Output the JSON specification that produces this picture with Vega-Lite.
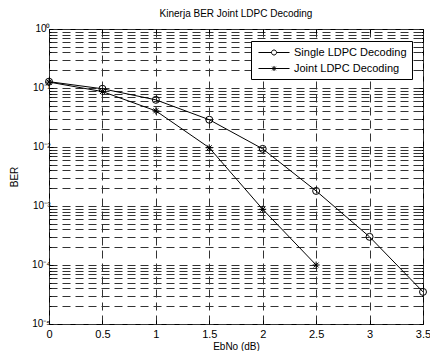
{
  "$schema": "https://vega.github.io/schema/vega-lite/v6.json",
  "width": 374,
  "height": 295,
  "autosize": {"type": "none"},
  "padding": {"left": 49, "top": 29, "right": 7, "bottom": 27},
  "background": "white",
  "config": {
    "font": "Liberation Sans",
    "view": {"stroke": "black", "strokeWidth": 1},
    "axis": {"domain": false, "labelColor": "black", "titleColor": "black", "tickColor": "black", "titleFontWeight": "normal", "labelFontSize": 11, "titleFontSize": 10, "labelFont": "Liberation Sans", "titleFont": "Liberation Sans"}
  },
  "title": {"text": "Kinerja BER Joint LDPC Decoding", "fontSize": 10, "fontWeight": "normal", "font": "Liberation Sans", "color": "black", "offset": 4},
  "data": {"values": [
    {"ebno": 0, "ber": 0.128, "series": "Single LDPC Decoding"},
    {"ebno": 0.5, "ber": 0.097, "series": "Single LDPC Decoding"},
    {"ebno": 1, "ber": 0.063, "series": "Single LDPC Decoding"},
    {"ebno": 1.5, "ber": 0.029, "series": "Single LDPC Decoding"},
    {"ebno": 2, "ber": 0.0093, "series": "Single LDPC Decoding"},
    {"ebno": 2.5, "ber": 0.0018, "series": "Single LDPC Decoding"},
    {"ebno": 3, "ber": 0.0003, "series": "Single LDPC Decoding"},
    {"ebno": 3.5, "ber": 0.000035, "series": "Single LDPC Decoding"},
    {"ebno": 0, "ber": 0.126, "series": "Joint LDPC Decoding"},
    {"ebno": 0.5, "ber": 0.087, "series": "Joint LDPC Decoding"},
    {"ebno": 1, "ber": 0.041, "series": "Joint LDPC Decoding"},
    {"ebno": 1.5, "ber": 0.0097, "series": "Joint LDPC Decoding"},
    {"ebno": 2, "ber": 0.00088, "series": "Joint LDPC Decoding"},
    {"ebno": 2.5, "ber": 0.0001, "series": "Joint LDPC Decoding"}
  ]},
  "encoding": {
    "x": {"field": "ebno", "type": "quantitative",
      "scale": {"domain": [0, 3.5], "nice": false, "zero": false},
      "axis": {"title": "EbNo (dB)", "values": [0, 0.5, 1, 1.5, 2, 2.5, 3, 3.5], "labelExpr": "format(datum.value, '~g')", "grid": true, "gridDash": [8, 5], "gridColor": "#333", "gridWidth": 1, "tickSize": -4, "labelPadding": 8, "titlePadding": 2, "labelFlush": false}},
    "y": {"field": "ber", "type": "quantitative",
      "scale": {"type": "log", "domain": [0.00001, 1], "nice": false},
      "axis": {"title": "BER", "grid": true, "gridDash": [8, 5], "gridColor": "#333", "gridWidth": 1,
        "values": [0.00001,0.00002,0.00003,0.00004,0.00005,0.00006,0.00007,0.00008,0.00009,0.0001,0.0002,0.0003,0.0004,0.0005,0.0006,0.0007,0.0008,0.0009,0.001,0.002,0.003,0.004,0.005,0.006,0.007,0.008,0.009,0.01,0.02,0.03,0.04,0.05,0.06,0.07,0.08,0.09,0.1,0.2,0.3,0.4,0.5,0.6,0.7,0.8,0.9,1],
        "labelExpr": "abs(log(datum.value)/LN10 - round(log(datum.value)/LN10)) > 0.001 ? '' : (round(log(datum.value)/LN10) == 0 ? '10⁰' : round(log(datum.value)/LN10) == -1 ? '10⁻¹' : round(log(datum.value)/LN10) == -2 ? '10⁻²' : round(log(datum.value)/LN10) == -3 ? '10⁻³' : round(log(datum.value)/LN10) == -4 ? '10⁻⁴' : '10⁻⁵')",
        "tickSize": {"condition": {"test": "abs(log(datum.value)/LN10 - round(log(datum.value)/LN10)) < 0.001", "value": -4}, "value": -2},
        "labelPadding": 3, "titlePadding": 12, "labelOverlap": false, "labelFontSize": 10, "labelOffset": -1}}
  },
  "layer": [
    {"mark": {"type": "line", "color": "black", "strokeWidth": 1}, "encoding": {"detail": {"field": "series"}}},
    {"mark": {"type": "point", "filled": false, "color": "black", "strokeWidth": 1, "size": 49, "opacity": 1},
      "encoding": {
        "x": {"field": "ebno", "type": "quantitative",
          "axis": {"orient": "top", "title": null, "labels": false, "grid": false, "values": [0, 0.5, 1, 1.5, 2, 2.5, 3, 3.5], "tickSize": -4}},
        "y": {"field": "ber", "type": "quantitative",
          "axis": {"orient": "right", "title": null, "labels": false, "grid": false,
            "values": [0.00001,0.00002,0.00003,0.00004,0.00005,0.00006,0.00007,0.00008,0.00009,0.0001,0.0002,0.0003,0.0004,0.0005,0.0006,0.0007,0.0008,0.0009,0.001,0.002,0.003,0.004,0.005,0.006,0.007,0.008,0.009,0.01,0.02,0.03,0.04,0.05,0.06,0.07,0.08,0.09,0.1,0.2,0.3,0.4,0.5,0.6,0.7,0.8,0.9,1],
            "tickSize": {"condition": {"test": "abs(log(datum.value)/LN10 - round(log(datum.value)/LN10)) < 0.001", "value": -4}, "value": -2}}},
        "shape": {"field": "series", "type": "nominal",
        "scale": {"domain": ["Single LDPC Decoding", "Joint LDPC Decoding"], "range": ["circle", "M-1,0L1,0M0,-1L0,1M-0.7,-0.7L0.7,0.7M-0.7,0.7L0.7,-0.7"]},
        "legend": null}}},
    {"mark": {"type": "point", "filled": false, "color": "black", "opacity": 0},
      "encoding": {
        "x": {"field": "ebno", "type": "quantitative", "axis": null},
        "y": {"field": "ber", "type": "quantitative", "axis": null},
        "shape": {"field": "series", "type": "nominal",
        "scale": {"domain": ["Single LDPC Decoding", "Joint LDPC Decoding"], "range": [
          "M-0.67,0L1.5,0M2.34,0L4.5,0M2.34,0A0.42,0.42 0 1,1 1.5,0A0.42,0.42 0 1,1 2.34,0",
          "M-0.67,0L4.5,0M1.92,-0.42L1.92,0.42M1.62,-0.3L2.22,0.3M1.62,0.3L2.22,-0.3"]},
        "legend": {"title": null, "orient": "none", "legendX": 202, "legendY": 12, "symbolSize": 144, "symbolOpacity": 1, "symbolStrokeColor": "black", "symbolFillColor": "transparent", "symbolStrokeWidth": 1, "labelFontSize": 11, "labelFont": "Liberation Sans", "labelColor": "black", "strokeColor": "black", "fillColor": "white", "padding": 5, "labelOffset": 25, "rowPadding": 4}}}}
  ],
  "resolve": {"scale": {"shape": "independent"}, "axis": {"x": "independent", "y": "independent"}}
}
